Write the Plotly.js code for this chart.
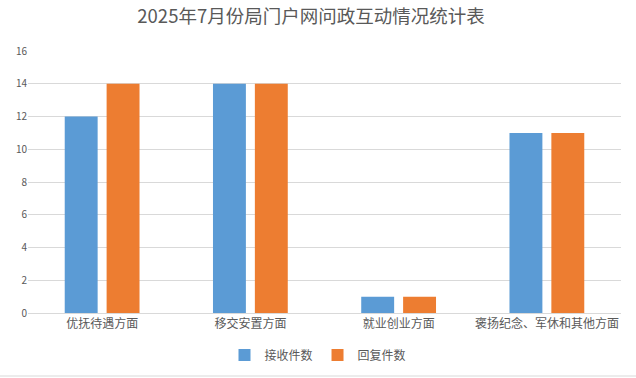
<!DOCTYPE html>
<html><head><meta charset="utf-8">
<script src="https://cdn.plot.ly/plotly-3.0.1.min.js"></script>
<style>html,body{margin:0;padding:0;background:#fff}#chart{width:636px;height:378px}</style>
</head><body><div id="chart"></div>
<script>
const categories = ["优抚待遇方面", "移交安置方面", "就业创业方面", "褒扬纪念、军休和其他方面"];
const received = [12, 14, 1, 11];
const replied = [14, 14, 1, 11];
const seriesNames = ["接收件数", "回复件数"];
const yTicks = [0, 2, 4, 6, 8, 10, 12, 14, 16];

const font = "'Microsoft YaHei', 'Noto Sans CJK SC', sans-serif";
const data = [
  {type: "bar", name: seriesNames[0], x: categories, y: received, marker: {color: "#5B9BD5"}, hoverinfo: "y"},
  {type: "bar", name: seriesNames[1], x: categories, y: replied, marker: {color: "#ED7D31"}, hoverinfo: "y"}
];
const layout = {
  width: 636, height: 378,
  margin: {l: 28, r: 15, t: 51, b: 65},
  paper_bgcolor: "#fff", plot_bgcolor: "#fff",
  font: {family: font, color: "#595959"},
  title: {text: "2025年7月份局门户网问政互动情况统计表", x: 311/636, xref: "container", xanchor: "center", y: 0.955, yanchor: "middle", font: {size: 18.5, color: "#595959", family: font}},
  barmode: "group", bargap: 0.435, bargroupgap: 0.214,
  xaxis: {tickfont: {size: 12, color: "#595959"}, showline: true, linecolor: "#D9D9D9", linewidth: 1, ticks: "", automargin: false, fixedrange: true},
  yaxis: {range: [0, 16], tickvals: yTicks, ticktext: yTicks.map(String), tickfont: {size: 10, color: "#595959"}, gridcolor: "#D9D9D9", gridwidth: 1, zeroline: false, showline: false, ticks: "", ticklen: 0, automargin: false, fixedrange: true},
  showlegend: true,
  legend: {orientation: "h", x: 318/636, xref: "container", xanchor: "center", y: 1 - 355/378, yref: "container", yanchor: "middle", font: {size: 12, color: "#595959"}, itemwidth: 30, entrywidth: 0, traceorder: "normal"},
  shapes: [{type: "line", xref: "paper", yref: "paper", x0: -28/593, x1: 1 + 15/593, y0: -63/262, y1: -63/262, line: {color: "#D9D9D9", width: 1}}]
};
Plotly.newPlot("chart", data, layout, {displayModeBar: false, staticPlot: true});
</script></body></html>
